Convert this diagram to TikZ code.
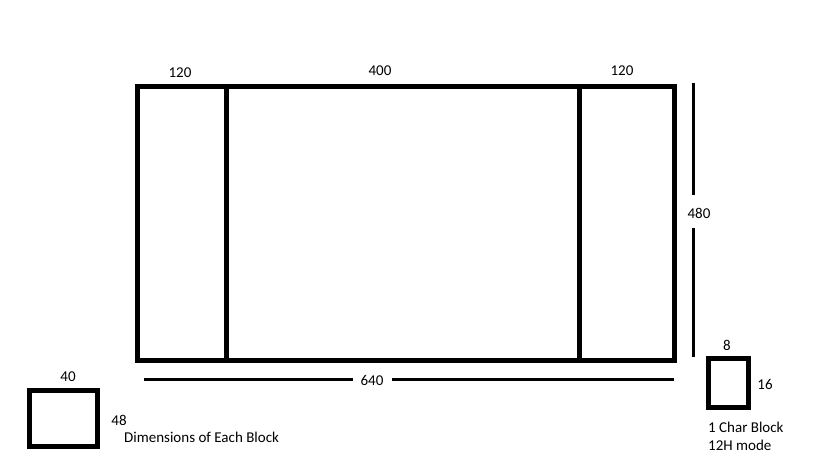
\documentclass[tikz,border=0pt]{standalone}
\usepackage{fontspec}
\setmainfont{Carlito}
\tikzset{
  frame/.style={line width=5pt},
  dimline/.style={line width=3pt},
  lbl/.style={inner sep=1pt, text=black}
}

\begin{document}
\begin{tikzpicture}[x=1pt, y=-1pt, font=\fontsize{15}{17}\selectfont]
        \useasboundingbox (0,0) rectangle (819,460);
        % Screen with the two side columns
        \draw[frame] (137,86) rectangle (674,360);
        \draw[frame] (226,86) -- (226,363);
        \draw[frame] (579,84) -- (579,363);
        \node[lbl] (leftw) at (180,73) {120};
        \node[lbl] (midw) at (380,71) {400};
        \node[lbl] (rightw) at (622,71) {120};
        % Height
        \node[lbl] (height) at (699,213) {480};
        \draw[dimline] (693,83) -- (693,195);
        \draw[dimline] (693,228) -- (693,357);
        % Total width
        \node[lbl] (width) at (372,380) {640};
        \draw[dimline] (144,379) -- (353,379);
        \draw[dimline] (392,379) -- (674,379);
        % Block
        \draw[frame] (29.5,390) rectangle (97.5,446);
        \node[lbl] (blockw) at (68,377) {40};
        \node[lbl] (blockh) at (119,420) {48};
        \node[lbl, anchor=west] (blocknote) at (123,437) {Dimensions of Each Block};
        % Char block
        \draw[frame] (708,358.5) rectangle (748,407.5);
        \node[lbl] (charw) at (727,345) {8};
        \node[lbl] (charh) at (765,384) {16};
        \node[lbl, anchor=west] (charnote) at (707,427) {1 Char Block};
        \node[lbl, anchor=west] (charmode) at (707,445) {12H mode};
\end{tikzpicture}
\end{document}
